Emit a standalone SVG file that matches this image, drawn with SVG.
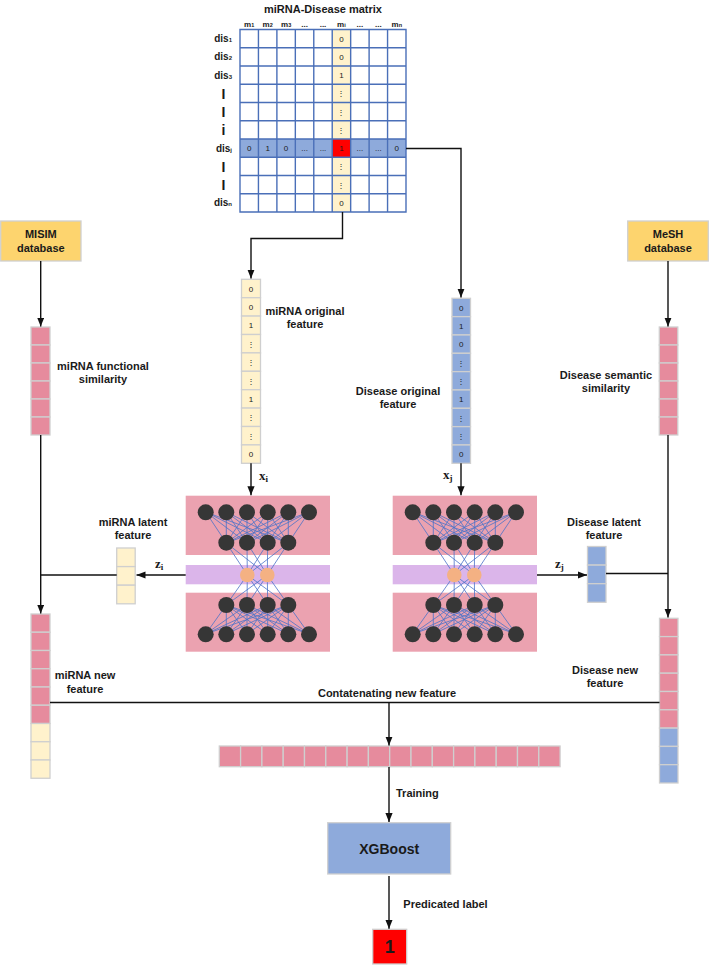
<svg xmlns="http://www.w3.org/2000/svg" xmlns:xlink="http://www.w3.org/1999/xlink" width="712" height="965" viewBox="0 0 712 965">
<style>
text{font-family:"Liberation Sans",Arial,sans-serif;fill:#1a1a1a}
.lb{font-size:11px;font-weight:bold;text-anchor:middle}
.lbs{font-size:11px;font-weight:bold}
.hd{font-size:8px;font-weight:bold;text-anchor:middle}
.rl{font-size:10px;font-weight:bold;text-anchor:end}
.bar{font-size:14px;font-weight:bold;text-anchor:middle}
.cv{font-size:8px;text-anchor:middle;fill:#444}
.mv{font-size:8px;text-anchor:middle;fill:#444}
.sym{font-family:"Liberation Serif","Times New Roman",serif;font-size:13px;font-weight:bold}
.pk{fill:#e68b9d;stroke:#cfcfcf;stroke-width:1.3}
.yl{fill:#fff2cc;stroke:#cfcfcf;stroke-width:1.3}
.bl{fill:#8eaadb;stroke:#cfcfcf;stroke-width:1.3}
.db{fill:#fdd46e;stroke:#d0d0d0;stroke-width:1.3}
.con{fill:none;stroke:#111;stroke-width:1.4}
.arr{marker-end:url(#ah)}
.nnbox{fill:#eba2b0}
.nnmid{fill:#dbb5ea}
.dn{fill:#363636}
.on{fill:#f4b183}
.edge{fill:none;stroke:#4a72c8;stroke-width:0.8}
</style>
<defs>
<marker id="ah" viewBox="0 0 10 8" refX="10" refY="4" markerWidth="9" markerHeight="7.2" markerUnits="userSpaceOnUse" orient="auto">
<path d="M0,0L10,4L0,8z" fill="#111"/>
</marker>
<g id="ae">
<rect class="nnbox" x="185.7" y="495.7" width="144.3" height="59.3"/>
<rect class="nnmid" x="185.7" y="565" width="144.3" height="19.3"/>
<rect class="nnbox" x="185.7" y="592.7" width="144.3" height="59"/>
<path class="edge" d="M205.7 512L226.3 543M205.7 512L247 543M205.7 512L267.7 543M205.7 512L288.3 543M226.3 512L226.3 543M226.3 512L247 543M226.3 512L267.7 543M226.3 512L288.3 543M247 512L226.3 543M247 512L247 543M247 512L267.7 543M247 512L288.3 543M267.7 512L226.3 543M267.7 512L247 543M267.7 512L267.7 543M267.7 512L288.3 543M288.3 512L226.3 543M288.3 512L247 543M288.3 512L267.7 543M288.3 512L288.3 543M309 512L226.3 543M309 512L247 543M309 512L267.7 543M309 512L288.3 543M226.3 543L247.3 575M226.3 543L267.3 575M247 543L247.3 575M247 543L267.3 575M267.7 543L247.3 575M267.7 543L267.3 575M288.3 543L247.3 575M288.3 543L267.3 575M247.3 575L226.3 605M247.3 575L247 605M247.3 575L267.7 605M247.3 575L288.3 605M267.3 575L226.3 605M267.3 575L247 605M267.3 575L267.7 605M267.3 575L288.3 605M226.3 605L205.7 634M226.3 605L226.3 634M226.3 605L247 634M226.3 605L267.7 634M226.3 605L288.3 634M226.3 605L309 634M247 605L205.7 634M247 605L226.3 634M247 605L247 634M247 605L267.7 634M247 605L288.3 634M247 605L309 634M267.7 605L205.7 634M267.7 605L226.3 634M267.7 605L247 634M267.7 605L267.7 634M267.7 605L288.3 634M267.7 605L309 634M288.3 605L205.7 634M288.3 605L226.3 634M288.3 605L247 634M288.3 605L267.7 634M288.3 605L288.3 634M288.3 605L309 634"/>
<g class="dn">
<circle cx="205.7" cy="512.3" r="8"/><circle cx="226.3" cy="512.3" r="8"/><circle cx="247" cy="512.3" r="8"/><circle cx="267.7" cy="512.3" r="8"/><circle cx="288.3" cy="512.3" r="8"/><circle cx="309" cy="512.3" r="8"/>
<circle cx="226.3" cy="542.7" r="8"/><circle cx="247" cy="542.7" r="8"/><circle cx="267.7" cy="542.7" r="8"/><circle cx="288.3" cy="542.7" r="8"/>
<circle cx="226.3" cy="605" r="8"/><circle cx="247" cy="605" r="8"/><circle cx="267.7" cy="605" r="8"/><circle cx="288.3" cy="605" r="8"/>
<circle cx="205.7" cy="634.3" r="8"/><circle cx="226.3" cy="634.3" r="8"/><circle cx="247" cy="634.3" r="8"/><circle cx="267.7" cy="634.3" r="8"/><circle cx="288.3" cy="634.3" r="8"/><circle cx="309" cy="634.3" r="8"/>
</g>
<circle class="on" cx="247.3" cy="575" r="7.3"/><circle class="on" cx="267.3" cy="575" r="7.3"/>
</g>
</defs>
<rect width="712" height="965" fill="#fff"/>

<g id="matrix">
<text class="lb" x="323" y="13">miRNA-Disease matrix</text>
<g class="hd">
<text x="249.2" y="27">m<tspan font-size="5.5">1</tspan></text>
<text x="267.7" y="27">m<tspan font-size="5.5">2</tspan></text>
<text x="286.1" y="27">m<tspan font-size="5.5">3</tspan></text>
<text x="304.6" y="27">...</text>
<text x="323" y="27">...</text>
<text x="341.4" y="27">m<tspan font-size="5.5">i</tspan></text>
<text x="359.9" y="27">...</text>
<text x="378.3" y="27">...</text>
<text x="396.8" y="27">m<tspan font-size="5.5">n</tspan></text>
</g>
<text class="rl" x="232" y="42">dis<tspan font-size="6">1</tspan></text>
<text class="rl" x="232" y="60.2">dis<tspan font-size="6">2</tspan></text>
<text class="rl" x="232" y="78.5">dis<tspan font-size="6">3</tspan></text>
<text class="bar" x="223.5" y="98.5">I</text>
<text class="bar" x="223.5" y="116.7">I</text>
<text class="bar" x="223.5" y="134.5" font-size="12">i</text>
<text class="rl" x="232" y="151.5">dis<tspan font-size="6">j</tspan></text>
<text class="bar" x="223.5" y="171.5">I</text>
<text class="bar" x="223.5" y="189.7">I</text>
<text class="rl" x="232" y="206.2">dis<tspan font-size="6">n</tspan></text>
<rect x="332.2" y="29.5" width="18.45" height="182.5" fill="#fff2cc"/>
<rect x="240" y="139" width="166" height="18.25" fill="#8eaadb"/>
<rect x="332.2" y="139" width="18.45" height="18.25" fill="#ff0000"/>
<path d="M240 29.5H406V212H240ZM240 47.75H406M240 66H406M240 84.25H406M240 102.5H406M240 120.75H406M240 139H406M240 157.25H406M240 175.5H406M240 193.75H406M258.44 29.5V212M276.89 29.5V212M295.33 29.5V212M313.78 29.5V212M332.22 29.5V212M350.67 29.5V212M369.11 29.5V212M387.56 29.5V212" fill="none" stroke="#4a6fb8" stroke-width="1.4"/>
<g class="mv">
<text x="341.4" y="41.5">0</text>
<text x="341.4" y="59.8">0</text>
<text x="341.4" y="78">1</text>
<text x="341.4" y="96.3">⋮</text>
<text x="341.4" y="114.5">⋮</text>
<text x="341.4" y="132.8">⋮</text>
<text x="341.4" y="169.3">⋮</text>
<text x="341.4" y="187.5">⋮</text>
<text x="341.4" y="205.8">0</text>
<text x="249.2" y="151">0</text>
<text x="267.7" y="151">1</text>
<text x="286.1" y="151">0</text>
<text x="304.6" y="151">...</text>
<text x="323" y="151">...</text>
<text x="341.4" y="151">1</text>
<text x="359.9" y="151">...</text>
<text x="378.3" y="151">...</text>
<text x="396.8" y="151">0</text>
</g>
</g>

<g id="misim-db">
<rect class="db" x="0.7" y="221" width="80.3" height="40"/>
<text class="lb" x="40.8" y="238">MISIM</text>
<text class="lb" x="40.8" y="251.5">database</text>
</g>
<g id="mesh-db">
<rect class="db" x="627.7" y="221" width="80.6" height="40"/>
<text class="lb" x="668" y="238">MeSH</text>
<text class="lb" x="668" y="251.5">database</text>
</g>

<g id="mirna-functional-similarity">
<rect class="pk" x="31" y="327" width="19" height="18"/><rect class="pk" x="31" y="345" width="19" height="18"/><rect class="pk" x="31" y="363" width="19" height="18"/><rect class="pk" x="31" y="381" width="19" height="18"/><rect class="pk" x="31" y="399" width="19" height="18"/><rect class="pk" x="31" y="417" width="19" height="18"/>
<text class="lb" x="103" y="370">miRNA functional</text>
<text class="lb" x="103" y="382.5">similarity</text>
</g>
<g id="disease-semantic-similarity">
<rect class="pk" x="659.3" y="327" width="18.5" height="18"/><rect class="pk" x="659.3" y="345" width="18.5" height="18"/><rect class="pk" x="659.3" y="363" width="18.5" height="18"/><rect class="pk" x="659.3" y="381" width="18.5" height="18"/><rect class="pk" x="659.3" y="399" width="18.5" height="18"/><rect class="pk" x="659.3" y="417" width="18.5" height="18"/>
<text class="lb" x="606" y="379">Disease semantic</text>
<text class="lb" x="606" y="391.5">similarity</text>
</g>

<g id="mirna-original-feature">
<rect class="yl" x="241.5" y="279.3" width="19" height="18.4"/><rect class="yl" x="241.5" y="297.7" width="19" height="18.4"/><rect class="yl" x="241.5" y="316.1" width="19" height="18.4"/><rect class="yl" x="241.5" y="334.5" width="19" height="18.4"/><rect class="yl" x="241.5" y="352.9" width="19" height="18.4"/><rect class="yl" x="241.5" y="371.3" width="19" height="18.4"/><rect class="yl" x="241.5" y="389.7" width="19" height="18.4"/><rect class="yl" x="241.5" y="408.1" width="19" height="18.4"/><rect class="yl" x="241.5" y="426.5" width="19" height="18.4"/><rect class="yl" x="241.5" y="444.9" width="19" height="18.4"/>
<g class="cv">
<text x="251" y="291.5">0</text><text x="251" y="309.9">0</text><text x="251" y="328.3">1</text><text x="251" y="346.7">⋮</text><text x="251" y="365.1">⋮</text><text x="251" y="383.5">⋮</text><text x="251" y="401.9">1</text><text x="251" y="420.3">⋮</text><text x="251" y="438.7">⋮</text><text x="251" y="457.1">0</text>
</g>
<text class="lb" x="305" y="315">miRNA original</text>
<text class="lb" x="305" y="328">feature</text>
</g>

<g id="disease-original-feature">
<rect class="bl" x="452" y="298.3" width="18.5" height="18.33"/><rect class="bl" x="452" y="316.63" width="18.5" height="18.33"/><rect class="bl" x="452" y="334.97" width="18.5" height="18.33"/><rect class="bl" x="452" y="353.3" width="18.5" height="18.33"/><rect class="bl" x="452" y="371.63" width="18.5" height="18.33"/><rect class="bl" x="452" y="389.97" width="18.5" height="18.33"/><rect class="bl" x="452" y="408.3" width="18.5" height="18.33"/><rect class="bl" x="452" y="426.63" width="18.5" height="18.33"/><rect class="bl" x="452" y="444.97" width="18.5" height="18.33"/>
<g class="cv">
<text x="461.2" y="310.5">0</text><text x="461.2" y="328.8">1</text><text x="461.2" y="347.1">0</text><text x="461.2" y="365.5">⋮</text><text x="461.2" y="383.8">⋮</text><text x="461.2" y="402.1">1</text><text x="461.2" y="420.5">⋮</text><text x="461.2" y="438.8">⋮</text><text x="461.2" y="457.1">0</text>
</g>
<text class="lb" x="398" y="395">Disease original</text>
<text class="lb" x="398" y="408">feature</text>
</g>

<g id="mirna-autoencoder"><use xlink:href="#ae" href="#ae"/></g>
<g id="disease-autoencoder"><use xlink:href="#ae" href="#ae" transform="translate(207,0)"/></g>

<g id="mirna-latent-feature">
<rect class="yl" x="116.7" y="548" width="18.5" height="18.6"/><rect class="yl" x="116.7" y="566.6" width="18.5" height="18.6"/><rect class="yl" x="116.7" y="585.2" width="18.5" height="18.6"/>
<text class="lb" x="133" y="526">miRNA latent</text>
<text class="lb" x="133" y="539">feature</text>
</g>
<g id="disease-latent-feature">
<rect class="bl" x="587.5" y="546.5" width="18.5" height="18.6"/><rect class="bl" x="587.5" y="565.1" width="18.5" height="18.6"/><rect class="bl" x="587.5" y="583.7" width="18.5" height="18.6"/>
<text class="lb" x="604" y="526">Disease latent</text>
<text class="lb" x="604" y="539">feature</text>
</g>

<g id="mirna-new-feature">
<rect class="pk" x="31" y="614" width="19" height="18.25"/><rect class="pk" x="31" y="632.25" width="19" height="18.25"/><rect class="pk" x="31" y="650.5" width="19" height="18.25"/><rect class="pk" x="31" y="668.75" width="19" height="18.25"/><rect class="pk" x="31" y="687" width="19" height="18.25"/><rect class="pk" x="31" y="705.25" width="19" height="18.25"/>
<rect class="yl" x="31" y="723.5" width="19" height="18.25"/><rect class="yl" x="31" y="741.75" width="19" height="18.25"/><rect class="yl" x="31" y="760" width="19" height="18.25"/>
<text class="lb" x="85" y="679">miRNA new</text>
<text class="lb" x="85" y="693">feature</text>
</g>
<g id="disease-new-feature">
<rect class="pk" x="659.5" y="618.3" width="18.5" height="18.3"/><rect class="pk" x="659.5" y="636.6" width="18.5" height="18.3"/><rect class="pk" x="659.5" y="654.9" width="18.5" height="18.3"/><rect class="pk" x="659.5" y="673.2" width="18.5" height="18.3"/><rect class="pk" x="659.5" y="691.5" width="18.5" height="18.3"/><rect class="pk" x="659.5" y="709.8" width="18.5" height="18.3"/>
<rect class="bl" x="659.5" y="728.1" width="18.5" height="18.3"/><rect class="bl" x="659.5" y="746.4" width="18.5" height="18.3"/><rect class="bl" x="659.5" y="764.7" width="18.5" height="18.3"/>
<text class="lb" x="605" y="674">Disease new</text>
<text class="lb" x="605" y="687">feature</text>
</g>

<g id="concatenated-feature">
<rect class="pk" x="219.3" y="746" width="21.3" height="20.7"/><rect class="pk" x="240.6" y="746" width="21.3" height="20.7"/><rect class="pk" x="261.9" y="746" width="21.3" height="20.7"/><rect class="pk" x="283.2" y="746" width="21.3" height="20.7"/><rect class="pk" x="304.5" y="746" width="21.3" height="20.7"/><rect class="pk" x="325.8" y="746" width="21.3" height="20.7"/><rect class="pk" x="347.1" y="746" width="21.3" height="20.7"/><rect class="pk" x="368.4" y="746" width="21.3" height="20.7"/><rect class="pk" x="389.7" y="746" width="21.3" height="20.7"/><rect class="pk" x="411" y="746" width="21.3" height="20.7"/><rect class="pk" x="432.3" y="746" width="21.3" height="20.7"/><rect class="pk" x="453.6" y="746" width="21.3" height="20.7"/><rect class="pk" x="474.9" y="746" width="21.3" height="20.7"/><rect class="pk" x="496.2" y="746" width="21.3" height="20.7"/><rect class="pk" x="517.5" y="746" width="21.3" height="20.7"/><rect class="pk" x="538.8" y="746" width="21.3" height="20.7"/>
</g>

<g id="xgboost">
<rect x="327.7" y="822.7" width="123" height="51.3" fill="#8eaadb" stroke="#d0d0d0" stroke-width="1.3"/>
<text x="389.2" y="853.5" font-size="14" font-weight="bold" text-anchor="middle">XGBoost</text>
</g>
<g id="predicted-label">
<rect x="372.7" y="929.3" width="34" height="34.7" fill="#ff0000" stroke="#d0d0d0" stroke-width="1.3"/>
<text x="389.7" y="953" font-size="18" font-weight="bold" text-anchor="middle">1</text>
</g>

<g id="connectors">
<path class="con arr" d="M342.5 212V238.5H251V278.5"/>
<path class="con arr" d="M406 148.5H461V297.5"/>
<path class="con arr" d="M40.7 261V326.5"/>
<path class="con arr" d="M668 261V326.5"/>
<path class="con arr" d="M40.7 435V613.5"/>
<path class="con" d="M116.7 575H40.7"/>
<path class="con arr" d="M668 435V617.5"/>
<path class="con" d="M606 573.5H668"/>
<path class="con arr" d="M251 463.3V495.2"/>
<path class="con arr" d="M461 463.3V495.2"/>
<path class="con arr" d="M185.7 575H136.5"/>
<path class="con arr" d="M537 575H587"/>
<path class="con" d="M50 702.5H659.5"/>
<path class="con arr" d="M389 702.5V745.5"/>
<path class="con arr" d="M389 767V822"/>
<path class="con arr" d="M389 876V928.8"/>
<text class="sym" x="259" y="480">x<tspan font-size="9" dy="2">i</tspan></text>
<text class="sym" x="443" y="479">x<tspan font-size="9" dy="2">j</tspan></text>
<text class="sym" x="155" y="568">z<tspan font-size="9" dy="2">i</tspan></text>
<text class="sym" x="555" y="568">z<tspan font-size="9" dy="2">j</tspan></text>
<text class="lb" x="387" y="696.5">Contatenating new feature</text>
<text class="lbs" x="396" y="797">Training</text>
<text class="lbs" x="403.3" y="908">Predicated label</text>
</g>
</svg>
